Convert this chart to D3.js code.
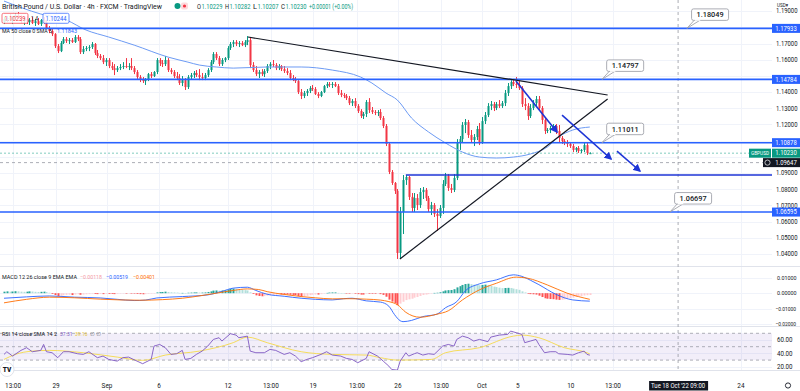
<!DOCTYPE html>
<html><head><meta charset="utf-8">
<script src="https://cdn.jsdelivr.net/npm/d3@7"></script>
<style>html,body{margin:0;padding:0;background:#fff;overflow:hidden}svg{display:block;font-family:Roboto,"DejaVu Sans",sans-serif}</style>
</head><body><svg id="c" width="800" height="391"></svg>
<script>
// ---------- DATA ----------
// GBP/USD 4h candles [open, high, low, close]
const ohlc = [
[1.1832,1.1863,1.1820,1.1851],[1.1851,1.1869,1.1832,1.1857],[1.1857,1.1882,1.1838,1.1845],[1.1845,1.1869,1.1820,1.1863],
[1.1863,1.1888,1.1845,1.1875],[1.1875,1.1894,1.1851,1.1857],[1.1857,1.1875,1.1826,1.1838],[1.1838,1.1863,1.1814,1.1851],
[1.1851,1.1869,1.1820,1.1832],[1.1832,1.1857,1.1814,1.1845],[1.1845,1.1863,1.1820,1.1826],[1.1826,1.1851,1.1808,1.1838],
[1.1838,1.1857,1.1814,1.1820],[1.1820,1.1851,1.1808,1.1845],[1.1845,1.1863,1.1820,1.1832],[1.1832,1.1845,1.1789,1.1795],
[1.1795,1.1808,1.1764,1.1777],[1.1777,1.1789,1.1746,1.1758],[1.1758,1.1764,1.1672,1.1684],[1.1684,1.1697,1.1641,1.1653],
[1.1653,1.1715,1.1647,1.1703],[1.1703,1.1740,1.1697,1.1727],[1.1727,1.1740,1.1703,1.1715],[1.1715,1.1734,1.1697,1.1721],
[1.1721,1.1734,1.1703,1.1709],[1.1709,1.1752,1.1703,1.1740],[1.1740,1.1752,1.1715,1.1727],[1.1727,1.1740,1.1635,1.1647],
[1.1647,1.1684,1.1635,1.1666],[1.1666,1.1684,1.1653,1.1672],[1.1672,1.1690,1.1653,1.1678],[1.1678,1.1709,1.1666,1.1697],
[1.1697,1.1703,1.1629,1.1641],[1.1641,1.1660,1.1610,1.1623],[1.1623,1.1635,1.1598,1.1610],[1.1610,1.1629,1.1573,1.1585],
[1.1585,1.1610,1.1561,1.1598],[1.1598,1.1610,1.1548,1.1561],[1.1561,1.1585,1.1536,1.1548],[1.1548,1.1573,1.1505,1.1536],
[1.1536,1.1561,1.1524,1.1548],[1.1548,1.1573,1.1536,1.1555],[1.1555,1.1585,1.1542,1.1561],[1.1561,1.1610,1.1548,1.1555],
[1.1555,1.1579,1.1536,1.1561],[1.1561,1.1610,1.1536,1.1548],[1.1548,1.1561,1.1511,1.1524],[1.1524,1.1536,1.1481,1.1493],
[1.1493,1.1505,1.1462,1.1481],[1.1481,1.1493,1.1456,1.1468],[1.1468,1.1487,1.1444,1.1481],[1.1481,1.1518,1.1468,1.1511],
[1.1511,1.1524,1.1487,1.1499],[1.1499,1.1530,1.1493,1.1524],[1.1524,1.1610,1.1511,1.1598],[1.1598,1.1610,1.1561,1.1579],
[1.1579,1.1598,1.1555,1.1573],[1.1573,1.1623,1.1561,1.1598],[1.1598,1.1610,1.1524,1.1536],[1.1536,1.1548,1.1511,1.1524],
[1.1524,1.1536,1.1487,1.1499],[1.1499,1.1524,1.1474,1.1487],[1.1487,1.1511,1.1444,1.1456],[1.1456,1.1499,1.1437,1.1474],
[1.1474,1.1487,1.1413,1.1431],[1.1431,1.1505,1.1419,1.1493],[1.1493,1.1518,1.1481,1.1505],[1.1505,1.1530,1.1487,1.1518],
[1.1518,1.1536,1.1493,1.1505],[1.1505,1.1542,1.1474,1.1493],[1.1493,1.1518,1.1474,1.1487],[1.1487,1.1518,1.1474,1.1505],
[1.1505,1.1548,1.1493,1.1536],[1.1536,1.1598,1.1524,1.1585],[1.1585,1.1647,1.1573,1.1635],[1.1635,1.1647,1.1598,1.1610],
[1.1610,1.1623,1.1561,1.1573],[1.1573,1.1610,1.1561,1.1598],[1.1598,1.1616,1.1585,1.1610],[1.1610,1.1684,1.1598,1.1672],
[1.1672,1.1709,1.1660,1.1697],[1.1697,1.1721,1.1678,1.1709],[1.1709,1.1721,1.1684,1.1697],[1.1697,1.1715,1.1678,1.1703],
[1.1703,1.1715,1.1684,1.1690],[1.1690,1.1721,1.1678,1.1709],[1.1709,1.1746,1.1690,1.1721],[1.1721,1.1734,1.1548,1.1567],
[1.1567,1.1585,1.1524,1.1536],[1.1536,1.1561,1.1499,1.1511],[1.1511,1.1536,1.1487,1.1524],[1.1524,1.1542,1.1499,1.1511],
[1.1511,1.1542,1.1493,1.1530],[1.1530,1.1573,1.1518,1.1561],[1.1561,1.1585,1.1542,1.1573],[1.1573,1.1598,1.1555,1.1567],
[1.1567,1.1579,1.1536,1.1548],[1.1548,1.1573,1.1536,1.1561],[1.1561,1.1567,1.1530,1.1542],[1.1542,1.1561,1.1518,1.1530],
[1.1530,1.1548,1.1505,1.1518],[1.1518,1.1536,1.1474,1.1487],[1.1487,1.1505,1.1468,1.1481],[1.1481,1.1493,1.1456,1.1468],
[1.1468,1.1474,1.1388,1.1400],[1.1400,1.1419,1.1357,1.1376],[1.1376,1.1407,1.1363,1.1394],[1.1394,1.1419,1.1376,1.1407],
[1.1407,1.1437,1.1394,1.1425],[1.1425,1.1444,1.1407,1.1419],[1.1419,1.1431,1.1382,1.1388],[1.1388,1.1400,1.1363,1.1376],
[1.1376,1.1407,1.1369,1.1400],[1.1400,1.1444,1.1394,1.1437],[1.1437,1.1462,1.1425,1.1450],[1.1450,1.1462,1.1431,1.1444],
[1.1444,1.1462,1.1425,1.1450],[1.1450,1.1462,1.1431,1.1437],[1.1437,1.1450,1.1382,1.1394],[1.1394,1.1413,1.1369,1.1382],
[1.1382,1.1394,1.1363,1.1376],[1.1376,1.1388,1.1351,1.1363],[1.1363,1.1376,1.1320,1.1332],[1.1332,1.1357,1.1314,1.1345],
[1.1345,1.1363,1.1302,1.1314],[1.1314,1.1326,1.1271,1.1283],[1.1283,1.1295,1.1240,1.1252],[1.1252,1.1277,1.1234,1.1265],
[1.1265,1.1351,1.1246,1.1339],[1.1339,1.1363,1.1271,1.1289],[1.1289,1.1308,1.1265,1.1277],[1.1277,1.1289,1.1258,1.1271],
[1.1271,1.1289,1.1252,1.1277],[1.1277,1.1295,1.1228,1.1240],[1.1240,1.1252,1.1178,1.1191],[1.1191,1.1203,1.1067,1.1080],
[1.1080,1.1092,1.0894,1.0907],[1.0907,1.0919,1.0827,1.0839],[1.0839,1.0845,1.0771,1.0790],[1.0790,1.0802,1.0370,1.0407],
[1.0407,1.0691,1.0376,1.0660],[1.0660,1.0888,1.0524,1.0857],[1.0857,1.0888,1.0827,1.0876],[1.0876,1.0882,1.0734,1.0753],
[1.0753,1.0777,1.0660,1.0685],[1.0685,1.0777,1.0660,1.0746],[1.0746,1.0771,1.0672,1.0703],[1.0703,1.0808,1.0685,1.0783],
[1.0783,1.0814,1.0740,1.0796],[1.0796,1.0808,1.0728,1.0746],[1.0746,1.0759,1.0660,1.0678],[1.0678,1.0722,1.0641,1.0703],
[1.0703,1.0715,1.0629,1.0648],[1.0648,1.0678,1.0543,1.0635],[1.0635,1.0703,1.0623,1.0685],[1.0685,1.0857,1.0648,1.0833],
[1.0833,1.0901,1.0820,1.0882],[1.0882,1.0894,1.0790,1.0808],[1.0808,1.0833,1.0777,1.0796],[1.0796,1.0894,1.0783,1.0870],
[1.0870,1.1110,1.0857,1.1092],[1.1092,1.1129,1.1043,1.1110],[1.1110,1.1215,1.1092,1.1197],[1.1197,1.1234,1.1147,1.1215],
[1.1215,1.1228,1.1117,1.1135],[1.1135,1.1166,1.1086,1.1104],[1.1104,1.1141,1.1067,1.1123],[1.1123,1.1191,1.1104,1.1172],
[1.1172,1.1209,1.1073,1.1092],[1.1092,1.1246,1.1080,1.1221],[1.1221,1.1277,1.1203,1.1258],[1.1258,1.1332,1.1246,1.1314],
[1.1314,1.1345,1.1289,1.1326],[1.1326,1.1339,1.1283,1.1302],[1.1302,1.1339,1.1289,1.1326],[1.1326,1.1351,1.1302,1.1314],
[1.1314,1.1345,1.1302,1.1332],[1.1332,1.1413,1.1314,1.1394],[1.1394,1.1456,1.1376,1.1437],[1.1437,1.1474,1.1419,1.1462],
[1.1462,1.1481,1.1437,1.1450],[1.1450,1.1493,1.1425,1.1444],[1.1444,1.1468,1.1413,1.1425],[1.1425,1.1437,1.1308,1.1326],
[1.1326,1.1363,1.1289,1.1314],[1.1314,1.1332,1.1228,1.1252],[1.1252,1.1326,1.1240,1.1302],[1.1302,1.1351,1.1289,1.1332],
[1.1332,1.1376,1.1314,1.1357],[1.1357,1.1376,1.1283,1.1302],[1.1302,1.1314,1.1203,1.1228],[1.1228,1.1240,1.1141,1.1160],
[1.1160,1.1178,1.1147,1.1166],[1.1166,1.1191,1.1147,1.1178],[1.1178,1.1203,1.1166,1.1191],[1.1191,1.1203,1.1141,1.1160],
[1.1160,1.1197,1.1092,1.1117],[1.1117,1.1129,1.1080,1.1098],[1.1098,1.1110,1.1073,1.1092],[1.1092,1.1104,1.1061,1.1080],
[1.1080,1.1092,1.1055,1.1067],[1.1067,1.1080,1.1030,1.1043],[1.1043,1.1061,1.1030,1.1055],[1.1055,1.1067,1.1024,1.1036],
[1.1036,1.1049,1.1024,1.1043],[1.1043,1.1086,1.1030,1.1073],[1.1073,1.1086,1.1012,1.1024],[1.10229,1.10282,1.10207,1.10230]
];
// MA 50 (SMA) readings [candle index, value]
const ma50 = [[0,1.1962],[13,1.1882],[22,1.1845],[29,1.1783],[37,1.1740],[46,1.1690],[58,1.1616],[65,1.1585],[69,1.1567],[75,1.1555],[81,1.1548],[93,1.1555],[105,1.1555],[116,1.1536],[126,1.1493],[130,1.1456],[135,1.1394],[139,1.1351],[144,1.1240],[150,1.1154],[156,1.1086],[162,1.1030],[168,1.0999],[174,1.0993],[180,1.0999],[186,1.1018],[192,1.1061],[196,1.1123],[201,1.1166],[207,1.11843]];
// MACD 12 26 9
const macdLine = [[0,-0.0033],[8,-0.0024],[16,-0.0018],[25,-0.0026],[34,-0.0031],[40,-0.0040],[46,-0.0048],[50,-0.0045],[54,-0.0031],[63,-0.0022],[72,-0.0011],[77,0.0012],[81,0.0033],[86,0.0039],[89,0.0018],[93,-0.0007],[99,-0.0020],[105,-0.0033],[110,-0.0040],[116,-0.0044],[120,-0.0036],[123,-0.0033],[128,-0.0050],[133,-0.0058],[136,-0.0085],[138,-0.0140],[140,-0.0180],[141,-0.0186],[144,-0.0178],[148,-0.0153],[153,-0.0137],[156,-0.0095],[160,-0.0055],[163,0.0015],[168,0.0061],[174,0.0087],[180,0.0120],[183,0.0110],[186,0.0085],[189,0.0056],[195,-0.0007],[201,-0.0044],[207,-0.00519]];
const signalLine = [[0,-0.0063],[8,-0.0040],[16,-0.0026],[25,-0.0030],[34,-0.0039],[48,-0.0046],[56,-0.0042],[63,-0.0033],[70,-0.0015],[75,0.0000],[81,0.0018],[86,0.0028],[90,0.0024],[93,0.0010],[99,-0.0008],[105,-0.0022],[110,-0.0030],[116,-0.0037],[122,-0.0036],[128,-0.0039],[133,-0.0045],[136,-0.0055],[139,-0.0075],[142,-0.0125],[147,-0.0157],[153,-0.0137],[157,-0.0115],[162,-0.0044],[168,0.0022],[174,0.0065],[181,0.0105],[185,0.0098],[192,0.0054],[199,0.0000],[207,-0.00401]];
const macdHist = [
0.0010,0.0012,0.0010,0.0011,0.0013,0.0012,0.0010,0.0009,0.0010,0.0012,0.0011,0.0009,0.0008,0.0009,0.0010,0.0008,
0.0003,-0.0005,-0.0012,-0.0018,-0.0016,-0.0013,-0.0011,-0.0010,-0.0012,-0.0009,-0.0007,-0.0010,-0.0009,-0.0007,-0.0006,-0.0004,
-0.0005,-0.0006,-0.0005,-0.0006,-0.0004,-0.0005,-0.0005,-0.0006,-0.0004,-0.0003,-0.0002,-0.0002,-0.0001,-0.0002,-0.0003,-0.0005,
-0.0006,-0.0007,-0.0006,-0.0004,-0.0003,-0.0001,0.0005,0.0007,0.0008,0.0010,0.0008,0.0006,0.0005,0.0004,0.0002,0.0002,
0.0001,0.0003,0.0004,0.0005,0.0005,0.0004,0.0004,0.0005,0.0008,0.0012,0.0017,0.0018,0.0016,0.0017,0.0018,0.0023,
0.0028,0.0030,0.0028,0.0025,0.0022,0.0020,0.0018,0.0006,-0.0005,-0.0014,-0.0018,-0.0020,-0.0019,-0.0016,-0.0013,-0.0011,
-0.0010,-0.0008,-0.0008,-0.0008,-0.0008,-0.0010,-0.0011,-0.0012,-0.0018,-0.0022,-0.0020,-0.0017,-0.0013,-0.0010,-0.0009,-0.0009,
-0.0006,-0.0002,0.0002,0.0004,0.0005,0.0005,0.0002,0.0001,0.0000,-0.0001,-0.0003,-0.0002,-0.0004,-0.0006,-0.0009,-0.0009,
-0.0003,-0.0004,-0.0004,-0.0004,-0.0003,-0.0006,-0.0011,-0.0023,-0.0042,-0.0055,-0.0064,-0.0078,-0.0068,-0.0056,-0.0045,-0.0040,
-0.0036,-0.0029,-0.0025,-0.0018,-0.0012,-0.0009,-0.0006,-0.0002,0.0002,0.0003,0.0006,0.0012,0.0018,0.0020,0.0021,0.0026,
0.0038,0.0046,0.0054,0.0060,0.0062,0.0059,0.0056,0.0055,0.0052,0.0054,0.0056,0.0053,0.0048,0.0043,0.0040,0.0036,
0.0033,0.0034,0.0035,0.0034,0.0030,0.0026,0.0022,0.0012,0.0005,-0.0004,-0.0006,-0.0007,-0.0009,-0.0016,-0.0025,-0.0033,
-0.0036,-0.0038,-0.0039,-0.0042,-0.0044,-0.0043,-0.0040,-0.0036,-0.0032,-0.0029,-0.0025,-0.0022,-0.0019,-0.0015,-0.0013,-0.00118
];
// RSI 14 and its SMA 14
const rsiLine = [[0,38.5],[1,42.5],[3,36],[6,44.5],[8,48.5],[10,42.5],[13,44.5],[14,53.4],[15,42.5],[17,41],[19,33.6],[21,42.5],[23,42.5],[26,39.5],[28,38.5],[30,42.5],[33,33.6],[35,36],[37,31],[40,28.5],[42,33.6],[44,34.5],[47,28.5],[49,24.6],[52,31],[53,50.9],[55,53.4],[57,48.5],[59,38.5],[61,39.5],[63,44.5],[64,31],[66,32.5],[68,38.5],[70,43.4],[72,50.9],[74,60.9],[76,63.4],[77,58.4],[80,69.4],[82,67.3],[83,63.4],[86,65.8],[87,43.4],[89,41],[92,41],[94,46],[96,44.5],[99,38.5],[101,41],[103,36],[105,27.6],[107,31],[109,33.6],[112,38.5],[114,42.5],[116,37.5],[119,36],[121,32.5],[123,31],[125,26.1],[128,32.5],[129,42.5],[132,36],[134,28.5],[136,21],[137,16],[139,15],[140,28.5],[142,41],[143,36],[145,39.5],[146,41],[148,37.5],[150,39.5],[152,38.5],[153,42.5],[155,50.9],[157,53.4],[159,50.9],[160,60.9],[162,65.8],[164,63.4],[166,58.4],[168,60.9],[171,57.5],[172,64.3],[175,67.3],[178,68.4],[179,73.3],[181,70.9],[183,68.4],[184,56],[186,58.4],[188,60.9],[189,53.4],[191,41],[193,42.5],[195,42.5],[196,39.5],[199,38.5],[201,37.5],[203,41],[205,43.4],[206,38.5],[207,37.31]];
const rsiSma = [[0,31],[4,38.5],[10,43.4],[16,44.5],[28,41],[40,34.5],[49,29.6],[57,37.5],[69,43.4],[81,56],[86,64.3],[93,56],[105,42.5],[116,38.5],[128,37.5],[133,33.6],[139,30],[151,31],[156,41],[168,48.5],[180,65.8],[183,67.3],[189,63.4],[198,48.5],[206,41],[207,39.16]];
// axes
const priceGrid = [1.19,1.18,1.17,1.16,1.15,1.14,1.13,1.12,1.11,1.10,1.09,1.08,1.07,1.06,1.05,1.04];
const priceLabels = [1.19,1.17,1.16,1.14,1.13,1.12,1.09,1.08,1.07,1.06,1.05,1.04];
const macdTicks = [0.01,0,-0.01,-0.02];
const rsiTicks = [60,40,20];
const timeTicks = [[3.2,"13:00"],[18.4,"29"],[36.4,"Sep"],[54.8,"6"],[79.2,"12"],[94.3,"13:00"],[109.2,"19"],[124.7,"13:00"],[139.2,"26"],[154.4,"13:00"],[168.9,"Oct"],[181.6,"5"],[200.3,"10"],[215.2,"13:00"],[260.4,"24"]];
// legend values
const ohlcLegend = [["O","1.10229"],["H","1.10282"],["L","1.10207"],["C","1.10230"]];
const changeLegend = "+0.00001 (+0.00%)";
// drawings
const levels = [1.17933,1.14784,1.10878,1.06595];
const partialLevel = [142,1.0888];
const callouts = [[1.17933,241.3,"1.18049"],[1.14784,211.3,"1.14797"],[1.10878,211.3,"1.11011"],[1.06595,235.3,"1.06697"]];
const triangle = [[[86.2,1.1740],[213.3,1.1382]],[[139.9,1.0370],[213.3,1.1357]]];
const arrows = [[[180.9,1.1468],[195.4,1.1154]],[[197.2,1.1258],[214.5,1.0987]],[[216.6,1.1036],[224.7,1.0913]]];
const lastPrice = 1.10230, crossPrice = 1.09647, crossIdx = 238.2;

// ---------- RENDER ----------
const svg = d3.select('#c');
const PR = 772;
const x = d3.scaleLinear().domain([0,207]).range([4,589.8]);
const yP = d3.scaleLinear().domain([1.17,1.04]).range([43.5,254.1]);
const yM = d3.scaleLinear().domain([0.01,-0.02]).range([277.9,323.8]);
const yR = d3.scaleLinear().domain([70,30]).range([333.3,360.1]);
const UP='#089981', DN='#f23645', BLUE='#2962ff', GRID='#f0f3fa', TXT='#131722';

const defs = svg.append('defs');
[['cm',0,0,PR,266],['cd',0,267,PR,59],['cr',0,327,PR,43]].forEach(c=>{
  defs.append('clipPath').attr('id',c[0]).append('rect').attr('x',c[1]).attr('y',c[2]).attr('width',c[3]).attr('height',c[4]);
});
defs.append('marker').attr('id','ah').attr('viewBox','0 0 10 10').attr('refX',8).attr('refY',5)
  .attr('markerWidth',5).attr('markerHeight',5).attr('orient','auto')
  .append('path').attr('d','M0,0L10,5L0,10z').attr('fill','#1e35d6');

svg.append('rect').attr('width',800).attr('height',391).attr('fill','#fff');

// grids
const g0 = svg.append('g');
g0.selectAll('.hg').data(priceGrid).join('line').attr('x1',0).attr('x2',PR)
  .attr('y1',d=>Math.round(yP(d))+.5).attr('y2',d=>Math.round(yP(d))+.5).attr('stroke',GRID);
g0.selectAll('.vg').data(timeTicks).join('line').attr('x1',d=>Math.round(x(d[0]))+.5).attr('x2',d=>Math.round(x(d[0]))+.5)
  .attr('y1',0).attr('y2',370).attr('stroke',GRID);
g0.selectAll('.mg').data(macdTicks).join('line').attr('x1',0).attr('x2',PR)
  .attr('y1',d=>Math.round(yM(d))+.5).attr('y2',d=>Math.round(yM(d))+.5).attr('stroke',GRID);
g0.selectAll('.rg').data(rsiTicks).join('line').attr('x1',0).attr('x2',PR)
  .attr('y1',d=>Math.round(yR(d))+.5).attr('y2',d=>Math.round(yR(d))+.5).attr('stroke',GRID);
[266.5,326.5,370.5].forEach(yy=>svg.append('line').attr('x1',0).attr('x2',800).attr('y1',yy).attr('y2',yy).attr('stroke','#e0e3eb'));

// RSI band
svg.append('rect').attr('x',0).attr('width',PR).attr('y',yR(70)).attr('height',yR(30)-yR(70)).attr('fill','rgba(126,87,194,0.1)');
[70,50,30].forEach(v=>svg.append('line').attr('x1',0).attr('x2',PR).attr('y1',yR(v)).attr('y2',yR(v))
  .attr('stroke','#9a9ca6').attr('stroke-dasharray','3,3').attr('stroke-width',0.8));

// crosshair vertical + price lines
svg.append('line').attr('x1',x(crossIdx)).attr('x2',x(crossIdx)).attr('y1',0).attr('y2',370)
  .attr('stroke','#9598a1').attr('stroke-dasharray','3,3').attr('stroke-width',0.8);
const main = svg.append('g').attr('clip-path','url(#cm)');
main.append('line').attr('x1',0).attr('x2',PR).attr('y1',yP(lastPrice)).attr('y2',yP(lastPrice))
  .attr('stroke','#089981').attr('stroke-opacity',0.5).attr('stroke-dasharray','2,2');
main.append('line').attr('x1',0).attr('x2',PR).attr('y1',yP(crossPrice)).attr('y2',yP(crossPrice))
  .attr('stroke','#9598a1').attr('stroke-dasharray','3,3').attr('stroke-width',0.8);

// candles
const cg = main.append('g');
cg.selectAll('line.w').data(ohlc).join('line').attr('x1',(d,i)=>Math.round(x(i))+.5).attr('x2',(d,i)=>Math.round(x(i))+.5)
  .attr('y1',d=>yP(d[1])).attr('y2',d=>yP(d[2])).attr('stroke',d=>d[3]>=d[0]?UP:DN).attr('stroke-width',1);
cg.selectAll('rect').data(ohlc).join('rect').attr('x',(d,i)=>Math.round(x(i))-0.5).attr('width',2)
  .attr('y',d=>yP(Math.max(d[0],d[3]))).attr('height',d=>Math.max(1,Math.abs(yP(d[0])-yP(d[3]))))
  .attr('fill',d=>d[3]>=d[0]?UP:DN);

// MA50
main.append('path').datum(ma50).attr('fill','none').attr('stroke','#6d9bf4').attr('stroke-width',1)
  .attr('d',d3.line().x(d=>x(d[0])).y(d=>yP(d[1])).curve(d3.curveMonotoneX));

// horizontal levels
main.selectAll('line.lv').data(levels).join('line').attr('x1',0).attr('x2',PR)
  .attr('y1',d=>yP(d)).attr('y2',d=>yP(d)).attr('stroke',BLUE).attr('stroke-width',1.6);
main.append('line').attr('x1',x(partialLevel[0])).attr('x2',PR).attr('y1',yP(partialLevel[1])).attr('y2',yP(partialLevel[1]))
  .attr('stroke','#1e35d6').attr('stroke-width',1.6);

// triangle
main.selectAll('line.tr').data(triangle).join('line').attr('x1',d=>x(d[0][0])).attr('y1',d=>yP(d[0][1]))
  .attr('x2',d=>x(d[1][0])).attr('y2',d=>yP(d[1][1])).attr('stroke','#131722').attr('stroke-width',1.2);
// arrows
main.selectAll('line.ar').data(arrows).join('line').attr('x1',d=>x(d[0][0])).attr('y1',d=>yP(d[0][1]))
  .attr('x2',d=>x(d[1][0])).attr('y2',d=>yP(d[1][1])).attr('stroke','#1e35d6').attr('stroke-width',1.6)
  .attr('marker-end','url(#ah)');

// text helper (width fitted to the reference)
const T = (xx,yy,s,fs,fill,w,anchor)=>{const t=svg.append('text').attr('x',xx).attr('y',yy).attr('font-size',fs).attr('fill',fill).text(s);
  if(w) t.attr('textLength',w).attr('lengthAdjust','spacingAndGlyphs'); if(anchor) t.attr('text-anchor',anchor); return t;};

// callouts
callouts.forEach(c=>{
  const ax=x(c[1]), ay=yP(c[0]); const bx=ax+4.7, by=ay-19.5, bw=37, bh=11.5;
  const g=svg.append('g');
  g.append('path').attr('d',`M${bx+3},${by+bh-0.5}L${ax},${ay}L${bx+9},${by+bh-0.5}`).attr('fill','#fff').attr('stroke','#9598a1').attr('stroke-width',0.8);
  g.append('rect').attr('x',bx).attr('y',by).attr('width',bw).attr('height',bh).attr('rx',2).attr('fill','#fff').attr('stroke','#9598a1').attr('stroke-width',0.8);
  g.append('rect').attr('x',bx+3.3).attr('y',by+bh-1.2).attr('width',5.4).attr('height',1.6).attr('fill','#fff');
  T(bx+bw/2,by+bh/2+2.7,c[2],7.6,TXT,27,'middle').attr('font-weight',500);
});

// MACD pane
const md = svg.append('g').attr('clip-path','url(#cd)');
md.selectAll('rect').data(macdHist).join('rect').attr('x',(d,i)=>Math.round(x(i))-0.5).attr('width',2)
  .attr('y',d=>Math.min(yM(0),yM(d))).attr('height',d=>Math.max(0.5,Math.abs(yM(d)-yM(0))))
  .attr('fill',(d,i)=>{const p=i>0?macdHist[i-1]:d; return d>=0?(d>=p?'#26a69a':'#b2dfdb'):(d<=p?'#ff5252':'#ffcdd2');});
md.append('path').datum(macdLine).attr('fill','none').attr('stroke','#2962ff').attr('stroke-width',0.9)
  .attr('d',d3.line().x(d=>x(d[0])).y(d=>yM(d[1])).curve(d3.curveMonotoneX));
md.append('path').datum(signalLine).attr('fill','none').attr('stroke','#ff6d00').attr('stroke-width',0.9)
  .attr('d',d3.line().x(d=>x(d[0])).y(d=>yM(d[1])).curve(d3.curveMonotoneX));

// RSI pane
const rs = svg.append('g').attr('clip-path','url(#cr)');
rs.append('path').datum(rsiSma).attr('fill','none').attr('stroke','#f5d94a').attr('stroke-width',0.9)
  .attr('d',d3.line().x(d=>x(d[0])).y(d=>yR(d[1])).curve(d3.curveMonotoneX));
rs.append('path').datum(rsiLine).attr('fill','none').attr('stroke','#7e57c2').attr('stroke-width',0.9)
  .attr('d',d3.line().x(d=>x(d[0])).y(d=>yR(d[1])));

// legends
T(2,9,'British Pound / U.S. Dollar · 4h · FXCM · TradingView',7.6,TXT,160);
svg.append('circle').attr('cx',177.5).attr('cy',6).attr('r',3).attr('fill','#089981');
svg.append('rect').attr('x',181).attr('y',2.5).attr('width',7).attr('height',7).attr('rx',2).attr('fill','#fdd9dd');
svg.append('circle').attr('cx',184.5).attr('cy',6).attr('r',1.6).attr('fill','#f23645');
ohlcLegend.forEach((p,k)=>{
  T(197+28*k,9,p[0],6.8,TXT,4);
  T(201.5+28*k,9,p[1],6.8,UP,21);
});
T(309,9,changeLegend,6.8,UP,44);
svg.append('rect').attr('x',2).attr('y',13.3).attr('width',26).attr('height',10).attr('rx',1.5).attr('fill','rgba(255,255,255,0.85)').attr('stroke','#f23645').attr('stroke-width',0.7);
T(15,20.9,'1.10239',6.6,'#f23645',21,'middle');
T(31,20.9,'1.4',6.6,TXT,7);
svg.append('rect').attr('x',43).attr('y',13.3).attr('width',26).attr('height',10).attr('rx',1.5).attr('fill','rgba(255,255,255,0.85)').attr('stroke','#2962ff').attr('stroke-width',0.7);
T(56,20.9,'1.10244',6.6,'#2962ff',21,'middle');
T(2,33,'MA 50 close 0 SMA 5',5.8,TXT,50);
T(57,33,'1.11843',5.8,'#2962ff',20);
T(2,279,'MACD 12 26 close 9 EMA EMA',5.6,TXT,75);
T(80,279,'\u22120.00118',5.8,'#f59aa5',22);
T(106,279,'\u22120.00519',5.8,'#2962ff',22);
T(133,279,'\u22120.00401',5.8,'#ff6d00',22);
T(2,336,'RSI 14 close SMA 14 2',5.6,TXT,55);
T(60,336,'37.31',5.8,'#7e57c2',12.5);
T(75,336,'39.16',5.8,'#e7c53a',12.5);
T(90,336,'\u2205  \u2205',5.8,'#787b86',11);

// right price axis
T(777,7,'USD\u25BE',5.5,TXT,11);
svg.selectAll('text.pl').data(priceLabels).join('text').attr('x',776).attr('y',d=>yP(d)+2.2).attr('font-size',6.3).attr('fill',TXT)
  .attr('textLength',21.5).attr('lengthAdjust','spacingAndGlyphs').text(d=>d.toFixed(5));
const badge=(v,yy,fill)=>{svg.append('rect').attr('x',772).attr('y',yy-4.5).attr('width',28).attr('height',9).attr('fill',fill);
  T(786,yy+2.2,v.toFixed(5),6.3,'#fff',21.5,'middle');};
levels.forEach(v=>badge(v,yP(v),BLUE));
badge(lastPrice,yP(lastPrice),'#089981');
svg.append('rect').attr('x',749).attr('y',yP(lastPrice)-4.5).attr('width',22).attr('height',9).attr('fill','#089981');
T(760,yP(lastPrice)+2,'GBPUSD',5.4,'#fff',18,'middle');
svg.append('rect').attr('x',763).attr('y',yP(crossPrice)-4.5).attr('width',37).attr('height',9).attr('fill','#131722');
svg.append('circle').attr('cx',767.5).attr('cy',yP(crossPrice)).attr('r',2.6).attr('fill','none').attr('stroke','#fff').attr('stroke-width',0.7);
T(786,yP(crossPrice)+2.2,crossPrice.toFixed(5),6.3,'#fff',21.5,'middle');
svg.selectAll('text.ml').data(macdTicks).join('text').attr('x',d=>d<0?775.5:777).attr('y',d=>yM(d)+2.2)
  .attr('font-size',6).attr('fill',TXT).attr('textLength',d=>d<0?20.5:19.5).attr('lengthAdjust','spacingAndGlyphs')
  .text(d=>(d<0?'\u2212':'')+Math.abs(d).toFixed(5));
svg.selectAll('text.rl').data(rsiTicks).join('text').attr('x',777).attr('y',d=>yR(d)+2.2)
  .attr('font-size',6.3).attr('fill',TXT).attr('textLength',15.5).attr('lengthAdjust','spacingAndGlyphs').text(d=>d.toFixed(2));

// time axis
svg.selectAll('text.tl').data(timeTicks).join('text').attr('x',d=>x(d[0])).attr('y',388).attr('font-size',6.4)
  .attr('fill',TXT).attr('text-anchor','middle').text(d=>d[1]);
svg.append('rect').attr('x',x(crossIdx)-29).attr('y',381).attr('width',59).attr('height',9.5).attr('fill','#131722');
T(x(crossIdx),388.3,"Tue 18 Oct '22   09:00",6.3,'#fff',54,'middle');
// logo & gear
svg.append('circle').attr('cx',7).attr('cy',369.5).attr('r',7).attr('fill','#fff').attr('stroke','#e0e3eb');
T(7,372,'TV',6.5,'#131722',null,'middle').attr('font-weight',900);
svg.append('circle').attr('cx',788).attr('cy',385.5).attr('r',2.6).attr('fill','none').attr('stroke','#131722').attr('stroke-width',0.9);
</script></body></html>
